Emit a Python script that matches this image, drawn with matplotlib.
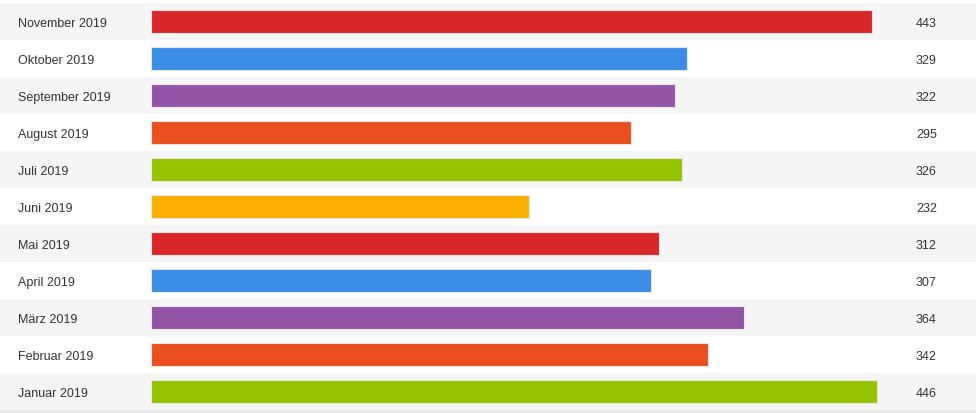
import matplotlib
matplotlib.use("Agg")
from matplotlib import pyplot as plt
from matplotlib import transforms

months = ["November 2019", "Oktober 2019", "September 2019", "August 2019",
          "Juli 2019", "Juni 2019", "Mai 2019", "April 2019", "März 2019",
          "Februar 2019", "Januar 2019"]
values = [443, 329, 322, 295, 326, 232, 312, 307, 364, 342, 446]
colors = ["#da2628", "#3c8de6", "#9455a8", "#ea501f", "#96c300", "#f9b000",
          "#da2628", "#3c8de6", "#9455a8", "#ea501f", "#96c300"]

plt.rcParams['font.family'] = ['Liberation Sans', 'DejaVu Sans']

W, H = 976, 413
fig = plt.figure(figsize=(W / 100, H / 100), dpi=100)
ax = fig.add_axes([0, 0, 1, 1])
ax.set_axis_off()

# pixel layout: bars start at x=151, max bar ends at x=877, rows 37px from y=3
s = (877 - 151) / max(values)
ax.set_xlim(-151 / s, (W - 151) / s)
row = 37.0
ax.set_ylim(len(months) - 0.5 + (H - 3 - row * len(months)) / row, -0.5 - 3 / row)

for i in range(len(months)):
    if i % 2 == 0:
        ax.axhspan(i - 0.5, i + 0.5, color="#f5f5f5", zorder=0, lw=0)
ax.axhspan(len(months) - 0.5, len(months) + 1, color="#e9e9e9", zorder=0, lw=0)

ypos = list(range(len(months)))
ax.barh(ypos, values, height=23 / row, color=colors, edgecolor="#e6e6e6",
        linewidth=0.8, zorder=2)

tr = transforms.blended_transform_factory(ax.transAxes, ax.transData)
for i, (m, v) in enumerate(zip(months, values)):
    ax.text(18 / W, i + 0.02, m, transform=tr, ha="left", va="center_baseline",
            fontsize=9.0, color="#333333")
    ax.text(916 / W, i + 0.02, str(v), transform=tr, ha="left", va="center_baseline",
            fontsize=9.0, color="#333333")

fig.savefig("out.png", dpi=100)
